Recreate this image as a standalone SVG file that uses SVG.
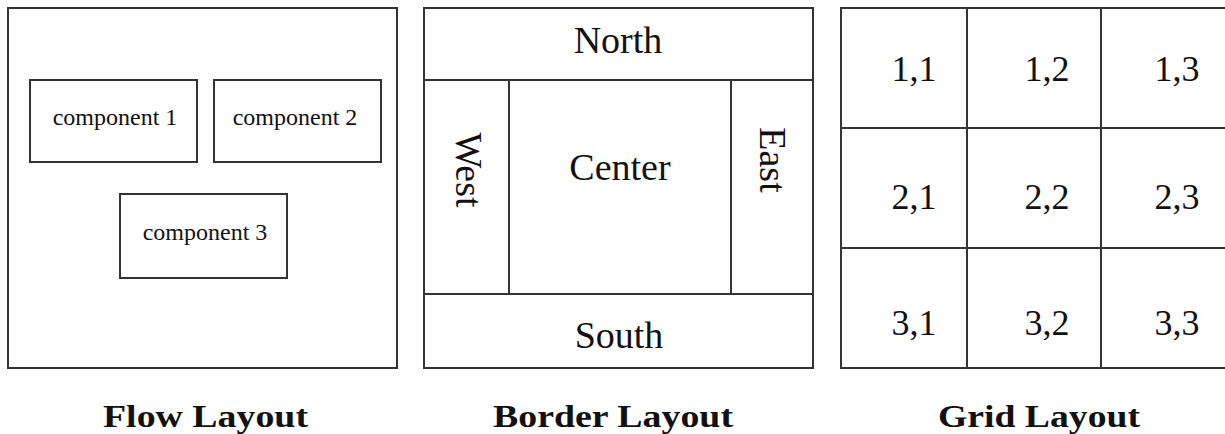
<svg xmlns="http://www.w3.org/2000/svg" width="1225" height="434" viewBox="0 0 1225 434">
<style>
.box{fill:#fff;stroke:#333;stroke-width:2}
.ln{stroke:#333;stroke-width:2;fill:none}
.t{font-family:"Liberation Serif","Times New Roman",serif;fill:#111;text-anchor:middle}
.s{font-size:24px}
.m{font-size:38px}
.g{font-size:36px}
.cap{font-family:"Liberation Serif","Times New Roman",serif;font-weight:bold;font-size:32px;fill:#111}
</style>
<rect width="1225" height="434" fill="#fff"/>
<g id="flow">
<rect class="box" x="8" y="8" width="389" height="360"/>
<g id="comp1"><rect class="box" x="30" y="80" width="167" height="82"/><text class="t s" x="115" y="125">component 1</text></g>
<g id="comp2"><rect class="box" x="214" y="80" width="167" height="82"/><text class="t s" x="295" y="125">component 2</text></g>
<g id="comp3"><rect class="box" x="120" y="194" width="167" height="84"/><text class="t s" x="205" y="240">component 3</text></g>
<text class="cap" x="103" y="427" textLength="205" lengthAdjust="spacingAndGlyphs">Flow Layout</text>
</g>
<g id="border">
<rect class="box" x="424" y="8" width="389" height="360"/>
<line class="ln" x1="424" y1="80" x2="813" y2="80"/>
<line class="ln" x1="424" y1="294" x2="813" y2="294"/>
<line class="ln" x1="509" y1="80" x2="509" y2="294"/>
<line class="ln" x1="731" y1="80" x2="731" y2="294"/>
<g id="north"><text class="t m" x="618" y="53">North</text></g>
<g id="center"><text class="t m" x="620" y="180">Center</text></g>
<g id="south"><text class="t m" x="619" y="348">South</text></g>
<g id="west"><text class="t m" transform="translate(456,170) rotate(90)" x="0" y="0">West</text></g>
<g id="east"><text class="t m" transform="translate(760,160) rotate(90)" x="0" y="0">East</text></g>
<text class="cap" x="493" y="427" textLength="240" lengthAdjust="spacingAndGlyphs">Border Layout</text>
</g>
<g id="grid">
<rect class="box" x="841" y="8" width="390" height="360"/>
<line class="ln" x1="967" y1="8" x2="967" y2="368"/>
<line class="ln" x1="1101" y1="8" x2="1101" y2="368"/>
<line class="ln" x1="841" y1="128" x2="1225" y2="128"/>
<line class="ln" x1="841" y1="248" x2="1225" y2="248"/>
<text class="t g" x="914" y="81">1,1</text>
<text class="t g" x="1047" y="81">1,2</text>
<text class="t g" x="1177" y="81">1,3</text>
<text class="t g" x="914" y="209">2,1</text>
<text class="t g" x="1047" y="209">2,2</text>
<text class="t g" x="1177" y="209">2,3</text>
<text class="t g" x="914" y="335">3,1</text>
<text class="t g" x="1047" y="335">3,2</text>
<text class="t g" x="1177" y="335">3,3</text>
<text class="cap" x="938" y="427" textLength="202" lengthAdjust="spacingAndGlyphs">Grid Layout</text>
</g>
<g id="connectors"></g>
</svg>
